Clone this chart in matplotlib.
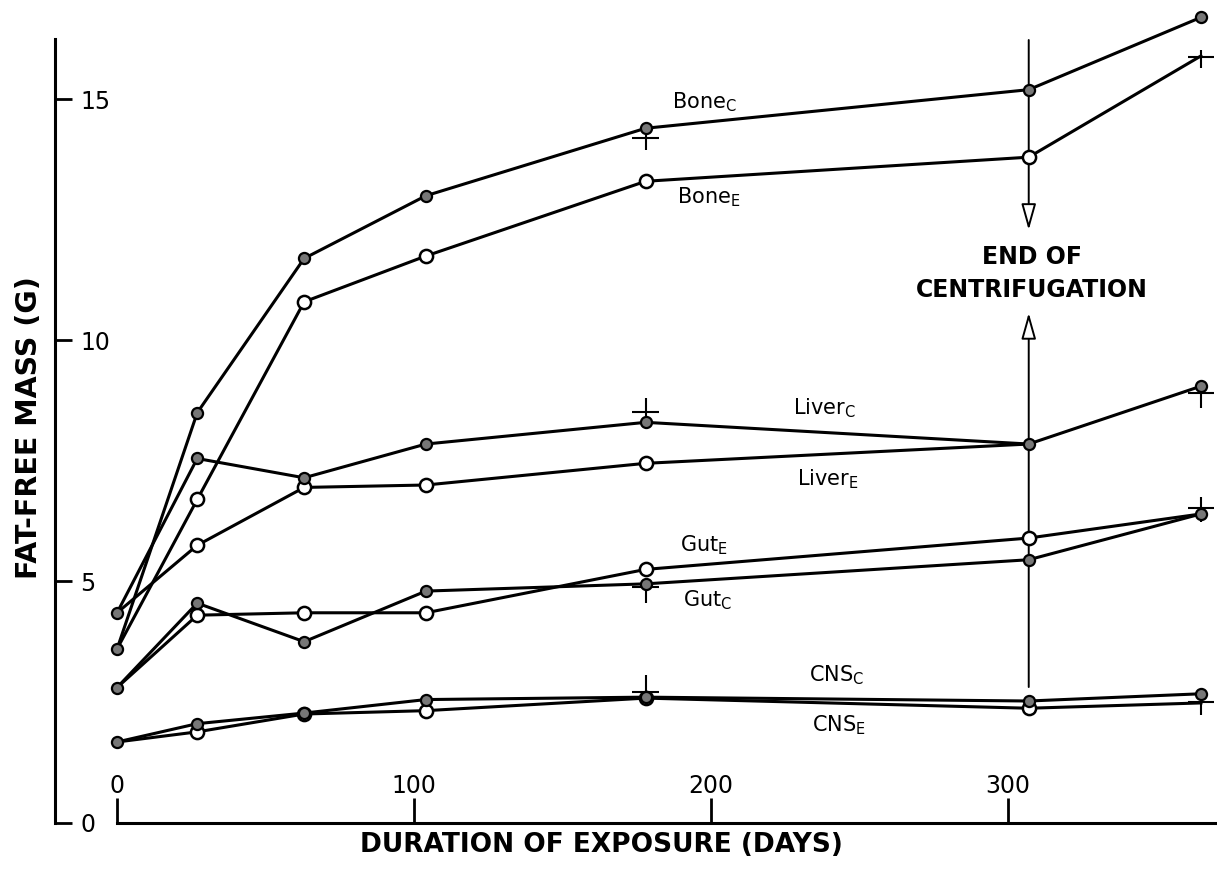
import numpy as np
import matplotlib.pyplot as plt

plt.rcParams['font.family'] = ['DejaVu Sans']
plt.rcParams['mathtext.fontset'] = 'dejavusans'

# days of exposure at which the animals were sampled
days = [0, 27, 63, 104, 178, 307, 365]

# fat-free mass (g), C = controls (filled), E = experimental (open)
bone_c = [3.6, 8.5, 11.7, 13.0, 14.4, 15.2, 16.7]
bone_e = [3.6, 6.7, 10.8, 11.75, 13.3, 13.8, 15.9]
liver_c = [4.35, 7.55, 7.15, 7.85, 8.3, 7.85, 9.05]
liver_e = [4.35, 5.75, 6.95, 7.0, 7.45, 7.85, np.nan]
gut_c = [2.8, 4.55, 3.75, 4.8, 4.95, 5.45, 6.4]
gut_e = [2.8, 4.3, 4.35, 4.35, 5.25, 5.9, 6.4]
cns_c = [1.67, 2.05, 2.27, 2.55, 2.6, 2.52, 2.67]
cns_e = [1.67, 1.88, 2.25, 2.32, 2.58, 2.37, 2.48]

# "+" marks (spread of the data)
pm_days = [178, 365, 178, 365, 178, 365, 178, 365]
pm_vals = [14.2, 15.88, 8.52, 8.91, 4.89, 6.52, 2.71, 2.5]
pm_up = [0.17, 0.15, 0.29, 0.17, 0.19, 0.23, 0.35, 0.29]
pm_down = [0.25, 0.23, 0.10, 0.31, 0.33, 0.29, 0.10, 0.27]

xticks = [0, 100, 200, 300]
yticks = [0, 5, 10, 15]

fig = plt.figure(figsize=(12.17, 8.71), dpi=100)
ax = fig.add_axes([55/1217, (871-822.5)/871, (1217-55)/1217, 822.5/871])
ax.set_xlim(-20.9, 370.4)
ax.set_ylim(0, 17.06)

for s in ['top', 'right']:
    ax.spines[s].set_visible(False)
ax.spines['left'].set_bounds(0, 16.25)
ax.spines['bottom'].set_bounds(0, 370.4)
ax.spines['left'].set_linewidth(2.2)
ax.spines['bottom'].set_linewidth(2.2)

ax.set_xticks(xticks)
ax.set_yticks(yticks)
ax.tick_params(axis='x', direction='in', length=18, width=2, pad=-21, labelsize=17)
ax.tick_params(axis='y', direction='in', length=12, width=2, pad=-18, labelsize=17)
for lab in ax.get_xticklabels():
    lab.set_va('baseline')
for lab in ax.get_yticklabels():
    lab.set_ha('left')

filled = dict(marker='o', ms=8, mfc='#777777', mec='black', mew=1.6)
hollow = dict(marker='o', ms=9.5, mfc='white', mec='black', mew=1.8)

series_c = [bone_c, liver_c, gut_c, cns_c]
series_e = [bone_e, liver_e, gut_e, cns_e]
open_idx = [[1, 2, 3, 4, 5], [1, 2, 3, 4], [1, 2, 3, 4, 5], [1, 2, 3, 4, 5]]

for ys in series_e:
    ax.plot(days, ys, color='black', lw=2.2, zorder=2)
for ys in series_c:
    ax.plot(days, ys, color='black', lw=2.2, zorder=2)
for ys, idx in zip(series_e, open_idx):
    ax.plot([days[i] for i in idx], [ys[i] for i in idx], ls='none', zorder=4, **hollow)
for ys in series_c:
    ax.plot(days, ys, ls='none', zorder=4, **filled)

ax.errorbar(pm_days, pm_vals, yerr=[pm_down, pm_up], xerr=4.5, fmt='none',
            ecolor='black', elinewidth=1.5, capsize=0, zorder=3)

# end of centrifugation marker
arrow_kw = dict(arrowstyle='-|>,head_length=1.6,head_width=0.45',
                lw=1.4, ec='black', fc='white', shrinkA=0, shrinkB=0)
ax.annotate('', xy=(307, 12.29), xytext=(307, 16.23), arrowprops=arrow_kw, zorder=1)
ax.annotate('', xy=(307, 10.57), xytext=(307, 2.81), arrowprops=arrow_kw, zorder=1)
ax.text(308, 11.73, 'END OF', ha='center', va='center', fontsize=17, fontweight='bold')
ax.text(308, 11.05, 'CENTRIFUGATION', ha='center', va='center', fontsize=17, fontweight='bold')

lab_kw = dict(ha='left', va='center', fontsize=15)
ax.text(186.9, 14.93, r'Bone$_{\mathregular{C}}$', **lab_kw)
ax.text(188.6, 12.98, r'Bone$_{\mathregular{E}}$', **lab_kw)
ax.text(227.6, 8.6, r'Liver$_{\mathregular{C}}$', **lab_kw)
ax.text(229.0, 7.13, r'Liver$_{\mathregular{E}}$', **lab_kw)
ax.text(189.6, 5.76, r'Gut$_{\mathregular{E}}$', **lab_kw)
ax.text(190.6, 4.62, r'Gut$_{\mathregular{C}}$', **lab_kw)
ax.text(233.0, 3.06, r'CNS$_{\mathregular{C}}$', **lab_kw)
ax.text(234.0, 2.02, r'CNS$_{\mathregular{E}}$', **lab_kw)

fig.text(601/1217, 1 - 845/871, 'DURATION OF EXPOSURE (DAYS)', ha='center', va='center',
         fontsize=19, fontweight='bold')
fig.text(29/1217, 1 - 428/871, 'FAT-FREE MASS (G)', ha='center', va='center',
         rotation=90, fontsize=20.5, fontweight='bold')

fig.savefig('out.png', dpi=100)
